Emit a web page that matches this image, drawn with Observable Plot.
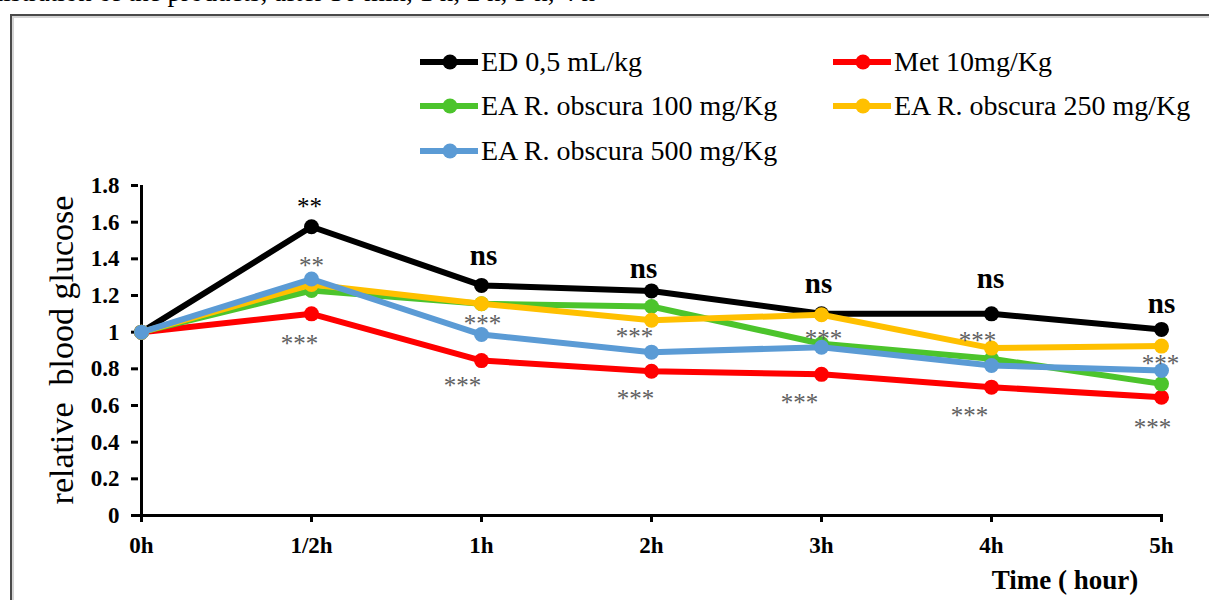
<!DOCTYPE html>
<html><head><meta charset="utf-8">
<script src="https://cdn.jsdelivr.net/npm/d3@7"></script>
<script src="https://cdn.jsdelivr.net/npm/@observablehq/plot@0.6"></script>
<style>
body{margin:0;background:#fff;}
#wrap{position:relative;width:1209px;height:600px;overflow:hidden;font-family:"Liberation Serif","Times New Roman",serif;color:#000;}
#chart{position:absolute;left:0;top:0;}
.frame{position:absolute;left:10px;top:14px;width:1300px;height:700px;border-left:2px solid #4a4a4a;border-top:2px solid #4a4a4a;}
.frame2{position:absolute;left:12px;top:16px;width:1300px;height:700px;border-left:2px solid #d4d4d4;border-top:2px solid #d4d4d4;}
.toptext{position:absolute;right:614px;top:-21px;font-size:27px;line-height:27px;white-space:nowrap;}
.leg{position:absolute;font-size:28px;line-height:28px;white-space:nowrap;display:flex;align-items:center;}
.leg svg{margin-right:3px;}
.ytitle{position:absolute;left:62px;top:350px;transform:translate(-50%,-50%) rotate(-90deg);font-size:34px;white-space:nowrap;}
.xtitle{position:absolute;left:1065px;top:580px;transform:translate(-50%,-50%);font-size:27px;font-weight:bold;white-space:nowrap;}
</style></head>
<body>
<div id="wrap">
  <div class="toptext">administration of the products, after 30 min, 1 h, 2 h, 3 h, 4 h</div>
  <div class="frame"></div>
  <div class="frame2"></div>
  <div id="chart"></div>
  <div class="ytitle">relative&nbsp; blood glucose</div>
  <div class="xtitle">Time ( hour)</div>
</div>
<script>
// ---- data ----
const times = ["0h", "1/2h", "1h", "2h", "3h", "4h", "5h"];
const seriesNames = ["ED 0,5 mL/kg", "Met 10mg/Kg", "EA R. obscura 100 mg/Kg", "EA R. obscura 250 mg/Kg", "EA R. obscura 500 mg/Kg"];
const seriesColors = ["#000000", "#FF0000", "#4CC42C", "#FFC000", "#5B9BD5"];
const ed    = [1.0, 1.575, 1.255, 1.225, 1.10, 1.10, 1.015];
const met   = [1.0, 1.10, 0.845, 0.787, 0.770, 0.700, 0.645];
const ea100 = [1.0, 1.227, 1.155, 1.140, 0.937, 0.855, 0.718];
const ea250 = [1.0, 1.260, 1.155, 1.065, 1.095, 0.913, 0.924];
const ea500 = [1.0, 1.290, 0.987, 0.891, 0.918, 0.818, 0.791];
const yTicks = [0, 0.2, 0.4, 0.6, 0.8, 1, 1.2, 1.4, 1.6, 1.8];

// significance vs control (black)
const sigLabels = ["**", "ns", "ns", "ns", "ns", "ns"];
const sigTimes  = ["1/2h", "1h", "2h", "3h", "4h", "5h"];
const sigValues = [1.718, 1.418, 1.348, 1.266, 1.293, 1.157];
const sigDx     = [-2, 2, -8, -3, -1, 0];
// gray asterisks
const starLabels = ["**", "***", "***", "***", "***", "***", "***", "***", "***", "***", "***", "***"];
const starTimes  = ["1/2h", "1/2h", "1h", "1h", "2h", "2h", "3h", "3h", "4h", "4h", "5h", "5h"];
const starValues = [1.391, 0.966, 1.080, 0.737, 1.004, 0.666, 0.993, 0.649, 0.987, 0.573, 0.857, 0.509];
const starDx     = [0, -12, 1, -19, -17, -16, 2, -22, -14, -22, -1, -9];

const allValues = [ed, met, ea100, ea250, ea500];
const rows = [];
seriesNames.forEach((s, k) => times.forEach((t, i) => rows.push({series: s, time: t, value: allValues[k][i]})));

const marks = [
  Plot.ruleY([0], {stroke: "#000", strokeWidth: 3}),
  Plot.ruleX([times[0]], {y1: 0, y2: yTicks[yTicks.length - 1], stroke: "#000", strokeWidth: 3}),
  Plot.axisY({ticks: yTicks, tickFormat: d => String(d), tickSize: 7, tickPadding: 12, strokeWidth: 3, fontSize: 23, fontWeight: "bold", label: null}),
  Plot.axisX({tickSize: 7, tickPadding: 14, strokeWidth: 3, fontSize: 23, fontWeight: "bold", label: null})
];
seriesNames.forEach(s => {
  const d = rows.filter(r => r.series === s);
  marks.push(Plot.line(d, {x: "time", y: "value", stroke: "series", strokeWidth: 6}));
  marks.push(Plot.dot(d, {x: "time", y: "value", fill: "series", r: 7.5}));
});
sigLabels.forEach((lab, i) => {
  const isNs = lab === "ns";
  marks.push(Plot.text([i], {x: () => sigTimes[i], y: () => sigValues[i], text: () => lab, dx: sigDx[i],
    dy: isNs ? 0 : 6, fontSize: isNs ? 29 : 25, fontWeight: isNs ? "bold" : "normal", fill: "#000"}));
});
starLabels.forEach((lab, i) => {
  marks.push(Plot.text([i], {x: () => starTimes[i], y: () => starValues[i], text: () => lab, dx: starDx[i],
    dy: 6, fontSize: 25, fill: "#606060"}));
});

const chart = Plot.plot({
  width: 1209, height: 600,
  marginLeft: 138, marginRight: 46, marginTop: 185, marginBottom: 85,
  style: {background: "transparent", fontFamily: "'Liberation Serif', 'Times New Roman', serif", color: "#000"},
  x: {type: "point", domain: times, padding: 0},
  y: {domain: [0, 1.8]},
  color: {domain: seriesNames, range: seriesColors},
  marks
});
document.getElementById("chart").appendChild(chart);

// legend
const legPos = [[420, 62], [833, 62], [420, 106], [833, 106], [420, 151]];
const wrap = document.getElementById("wrap");
seriesNames.forEach((s, k) => {
  const div = document.createElement("div");
  div.className = "leg";
  div.style.left = legPos[k][0] + "px";
  div.style.top = (legPos[k][1] - 14) + "px";
  div.innerHTML = `<svg width="58" height="28"><line x1="0" y1="14" x2="58" y2="14" stroke="${seriesColors[k]}" stroke-width="6"/><circle cx="30" cy="14" r="7.5" fill="${seriesColors[k]}"/></svg><span>${s}</span>`;
  wrap.appendChild(div);
});
</script>
</body></html>
